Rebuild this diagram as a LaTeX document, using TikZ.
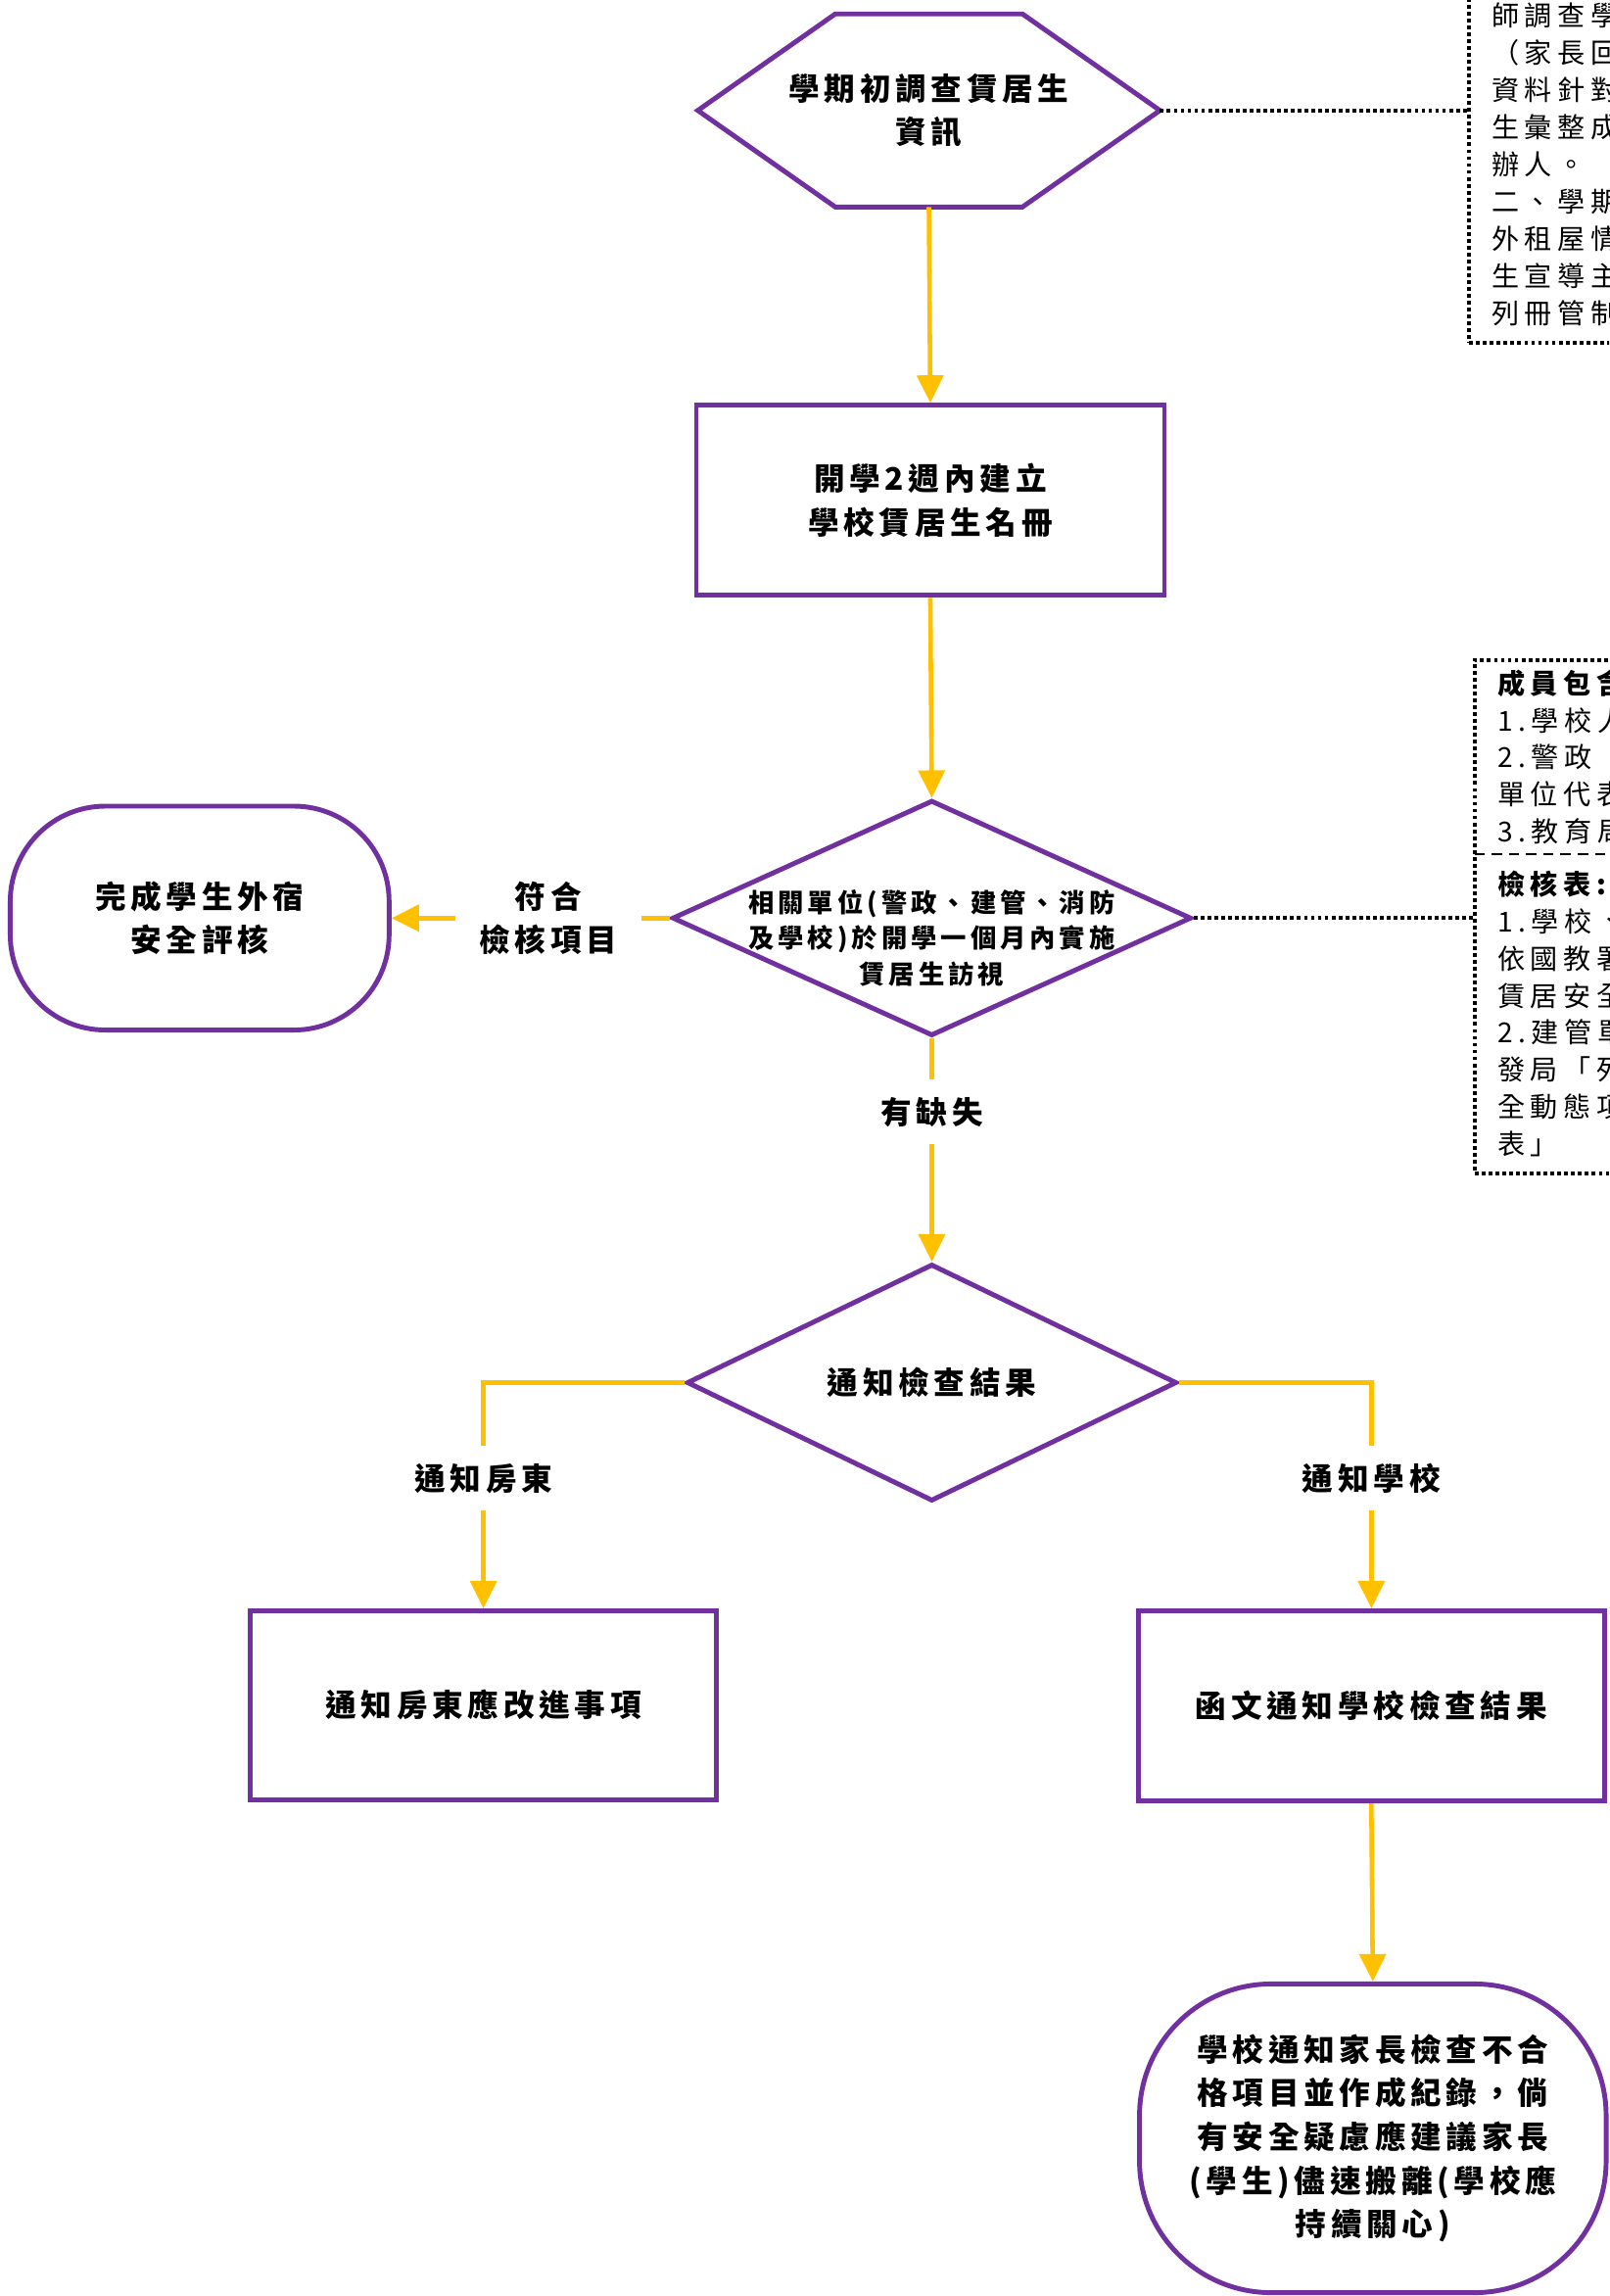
\documentclass[tikz,border=0pt]{standalone}
\usepackage{fontspec}
\newfontfamily\cjk[LetterSpace=15]{Noto Sans CJK TC}
\newfontfamily\cjknote[LetterSpace=20]{Noto Sans CJK TC}
\usetikzlibrary{shapes.geometric, arrows.meta, calc, positioning}

\definecolor{flowpurple}{RGB}{112,48,160}
\definecolor{flowyellow}{RGB}{255,192,0}
\newcommand{\pxu}{0.014936cm}

\tikzset{
    box/.style = {rectangle, draw = flowpurple, line width = 1.4pt, fill = white, align = center, inner sep = 0pt, font = \cjk\bfseries\fontsize{9pt}{12.7pt}\selectfont},
    hexnode/.style = {rectangle, align = center, inner sep = 0pt, font = \cjk\bfseries\fontsize{9pt}{12.7pt}\selectfont},
    diam/.style = {diamond, aspect = 2, draw = flowpurple, line width = 1.4pt, fill = white, inner sep = 0pt, align = center, font = \cjk\bfseries\fontsize{9pt}{12.7pt}\selectfont},
    smalltext/.style = {align = center, inner sep = 0pt, font = \cjk\bfseries\fontsize{7.5pt}{10.4pt}\selectfont},
    flow/.style = {draw = flowyellow, line width = 1.3pt, -{Triangle[width = 7.6pt, length = 8pt]}},
    flowlabel/.style = {fill = white, inner xsep = 7pt, inner ysep = 5pt, align = center, font = \cjk\bfseries\fontsize{9pt}{12.7pt}\selectfont},
    notebox/.style = {rectangle, align = left, text width = 3cm, inner xsep = 6.5pt, inner ysep = 2pt, font = \cjknote\fontsize{8pt}{10.8pt}\selectfont},
    notedot/.style = {line width = 1.2pt, dash pattern = on 1.1pt off 0.9pt},
    notedash/.style = {line width = 0.5pt, dash pattern = on 3pt off 2pt}
}

\begin{document}
\begin{tikzpicture}[x = \pxu, y = -\pxu]
    \path[use as bounding box, fill = white] (0,0) rectangle (1100,1569.3);

    % main column
    \node[hexnode, minimum width = 315*\pxu, minimum height = 131*\pxu] (survey) at (635,75.5) {學期初調查賃居生\\資訊};
    \draw[flowpurple, line width = 1.4pt] (survey.west) -- ($(survey.north west)+(94,0)$) -- ($(survey.north east)+(-94,0)$) -- (survey.east) -- ($(survey.south east)+(-94,0)$) -- ($(survey.south west)+(94,0)$) -- cycle;

    \node[box, minimum width = 320*\pxu, minimum height = 130*\pxu] (roster) at (636,342) {開學2週內建立\\學校賃居生名冊};

    \node[diam, minimum width = 355*\pxu, minimum height = 161*\pxu] (visit) at (637,627.5) {};
    \node[smalltext] (visittext) at (637,641) {相關單位(警政、建管、消防\\及學校)於開學一個月內實施\\賃居生訪視};

    \node[box, minimum width = 259*\pxu, minimum height = 153*\pxu, rounded corners = 65*\pxu] (done) at (136.5,627.5) {完成學生外宿\\安全評核};

    \node[diam, minimum width = 335*\pxu, minimum height = 162*\pxu] (result) at (637,945) {通知檢查結果};

    \node[box, minimum width = 319*\pxu, minimum height = 129*\pxu] (landlord) at (330.5,1165.5) {通知房東應改進事項};
    \node[box, minimum width = 319*\pxu, minimum height = 130*\pxu] (school) at (937.5,1166) {函文通知學校檢查結果};

    \node[box, minimum width = 319*\pxu, minimum height = 211*\pxu, rounded corners = 90*\pxu] (parent) at (938.5,1461.5) {學校通知家長檢查不合\\格項目並作成紀錄，倘\\有安全疑慮應建議家長\\(學生)儘速搬離(學校應\\持續關心)};

    % flow arrows
    \draw[flow] (survey.south) -- (roster.north);
    \draw[flow] (roster.south) -- (visit.north);
    \draw[flow] (visit.west) -- node[flowlabel, pos = 0.437] {符合\\檢核項目} (done.east);
    \draw[flow] (visit.south) -- node[flowlabel, pos = 0.33] {有缺失} (result.north);
    \draw[flow] (result.west) -| node[flowlabel, pos = 0.712] {通知房東} (landlord.north);
    \draw[flow] (result.east) -| node[flowlabel, pos = 0.712] {通知學校} (school.north);
    \draw[flow] (school.south) -- (parent.north);

    % notes on the right
    \begin{scope}
        \clip (0,0) rectangle (1100,1569.3);
        \node[notebox, draw, notedot, inner ysep = 5pt, anchor = south west] (rule) at (1003,236) {師調查學\\（家長回\\資料針對\\生彙整成\\辦人。\\二、學期\\外租屋情\\生宣導主\\列冊管制};
        \node[notebox, minimum height = 132*\pxu, anchor = north west] (members) at (1008,451) {\textbf{成員包含}\\1.學校人\\2.警政\\單位代表\\3.教育局};
        \node[notebox, minimum height = 217*\pxu, anchor = north west] (checklist) at (members.south west) {\textbf{檢核表:}\\1.學校、\\依國教署\\賃居安全\\2.建管單\\發局「列\\全動態項\\表」};
        \draw[notedot] (members.north east) -- (members.north west) -- (checklist.south west) -- (checklist.south east);
        \draw[notedash] (members.south west) -- (members.south east);
    \end{scope}
    \draw[notedot] (survey.east) -- (survey.east -| rule.west);
    \draw[notedot] (visit.east) -- (visit.east -| checklist.west);
\end{tikzpicture}
\end{document}
